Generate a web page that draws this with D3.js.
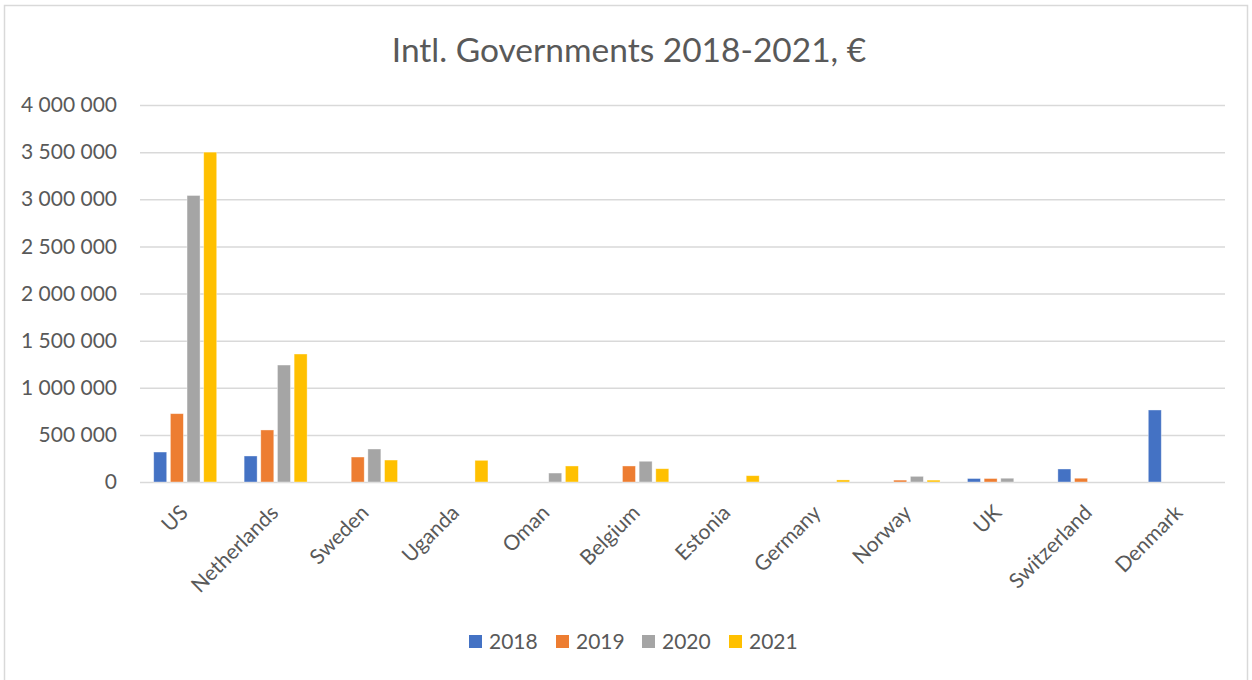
<!DOCTYPE html>
<html>
<head>
<meta charset="utf-8">
<script src="https://cdn.jsdelivr.net/npm/d3@7"></script>
<style>
	body { margin: 0; background: #fff; }
	text { font-family: Lato, "Open Sans", sans-serif; fill: #595959; }
</style>
</head>
<body>
<div class="svg-container"></div>
<script>
(function () {

	"use strict";

	// chart data
	var categories = ["US", "Netherlands", "Sweden", "Uganda", "Oman", "Belgium", "Estonia", "Germany", "Norway", "UK", "Switzerland", "Denmark"];
	var years = ["2018", "2019", "2020", "2021"];
	var values_2018 = [318000, 276000, 0, 0, 0, 0, 0, 0, 0, 37000, 138000, 764000];
	var values_2019 = [725000, 552000, 265000, 0, 0, 170000, 0, 0, 20000, 37000, 40000, 0];
	var values_2020 = [3040000, 1241000, 350000, 0, 95000, 220000, 0, 0, 60000, 40000, 0, 0];
	var values_2021 = [3500000, 1358000, 233000, 230000, 170000, 141000, 67000, 22000, 20000, 0, 0, 0];
	var y_ticks = [0, 500000, 1000000, 1500000, 2000000, 2500000, 3000000, 3500000, 4000000];
	var colors = ["#4472C4", "#ED7D31", "#A5A5A5", "#FFC000"];

	var series = [values_2018, values_2019, values_2020, values_2021];

	var width = 1252, height = 680;
	var plot = { left: 140, right: 1225, top: 105, bottom: 482 };

	var svg = d3.select(".svg-container").append("svg")
		.attr("width", width)
		.attr("height", height);

	// frame
	svg.append("rect")
		.attr("x", 4.5).attr("y", 5.5)
		.attr("width", 1243).attr("height", 690)
		.attr("fill", "#fff")
		.attr("stroke", "#d9d9d9")
		.attr("stroke-width", 1.5);

	svg.append("text")
		.attr("x", 629).attr("y", 62)
		.attr("text-anchor", "middle")
		.style("font-size", "33.5px")
		.text("Intl. Governments 2018-2021, €");

	var y = d3.scaleLinear().domain([0, 4000000]).range([plot.bottom, plot.top]);
	var x0 = d3.scaleBand().domain(categories).range([plot.left, plot.right]);
	var x1 = d3.scaleBand().domain(years)
		.range([(x0.bandwidth() - 63) / 2, (x0.bandwidth() + 63) / 2])
		.paddingInner(0.22);

	var fmt = function (d) { return d3.format(",")(d).replace(/,/g, " "); };

	// grid + y labels
	var yAxis = svg.append("g")
		.attr("transform", "translate(" + plot.left + ",0)")
		.call(d3.axisLeft(y).tickValues(y_ticks).tickFormat(fmt)
			.tickSize(-(plot.right - plot.left)).tickPadding(23));
	yAxis.select(".domain").remove();
	yAxis.selectAll(".tick line").attr("stroke", "#d9d9d9").attr("stroke-width", 1.5);
	yAxis.selectAll(".tick text").style("font-size", "21px").attr("fill", "#595959")
		.style("font-family", "Lato, sans-serif");

	// bars
	var groups = svg.selectAll(".cat")
		.data(categories)
		.enter()
		.append("g")
		.attr("class", "cat")
		.attr("transform", function (d) { return "translate(" + x0(d) + ",0)"; });

	groups.selectAll("rect")
		.data(function (d, i) { return years.map(function (yr, j) { return { year: yr, value: series[j][i], color: colors[j] }; }); })
		.enter()
		.filter(function (d) { return d.value > 0; })
		.append("rect")
		.attr("x", function (d) { return x1(d.year); })
		.attr("y", function (d) { return y(d.value); })
		.attr("width", x1.bandwidth())
		.attr("height", function (d) { return y(0) - y(d.value); })
		.attr("fill", function (d) { return d.color; })
		.attr("stroke", "#fff")
		.attr("stroke-opacity", 0.5)
		.attr("stroke-width", 0.75);

	// x labels
	svg.append("g").selectAll("text")
		.data(categories)
		.enter()
		.append("text")
		.attr("text-anchor", "end")
		.style("font-size", "21px")
		.attr("transform", function (d) { return "translate(" + (x0(d) + x0.bandwidth() / 2 + 4) + "," + 514 + ") rotate(-45)"; })
		.text(function (d) { return d; });

	// legend
	var legend_x = [469, 556, 642, 729];
	var legend = svg.append("g").selectAll("g")
		.data(years)
		.enter()
		.append("g")
		.attr("transform", function (d, i) { return "translate(" + legend_x[i] + ",635)"; });
	legend.append("rect")
		.attr("width", 13).attr("height", 13)
		.attr("fill", function (d, i) { return colors[i]; });
	legend.append("text")
		.attr("x", 20).attr("y", 14)
		.style("font-size", "21px")
		.text(function (d) { return d; });

})();
</script>
</body>
</html>
